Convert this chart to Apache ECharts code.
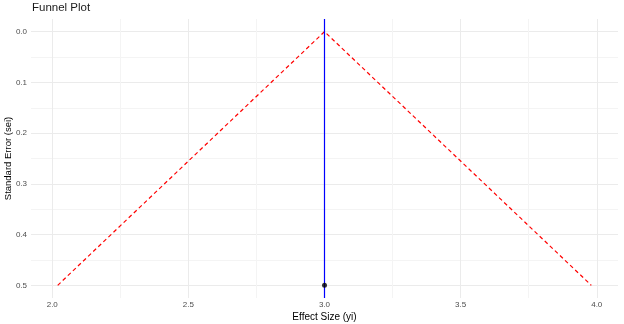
<!DOCTYPE html>
<html><head><meta charset="utf-8">
<script src="https://cdn.jsdelivr.net/npm/echarts@6/dist/echarts.min.js"></script>
<style>html,body{margin:0;padding:0;background:#fff}#c{width:624px;height:324px}</style>
</head><body><div id="c"></div>
<script>
const studyYi = [3.0];
const studySei = [0.5];
const pooledEstimate = 3.0;
const funnelX = [2.02, 3.0, 3.98];
const funnelY = [0.5, 0.0, 0.5];
const xTicks = [2.0, 2.5, 3.0, 3.5, 4.0];
const xMinor = [2.25, 2.75, 3.25, 3.75];
const yTicks = [0.0, 0.1, 0.2, 0.3, 0.4, 0.5];
const yMinor = [0.05, 0.15, 0.25, 0.35, 0.45];

const X_MIN = 1.922, X_MAX = 4.078, Y_MIN = -0.025, Y_MAX = 0.525;
const font = '"Liberation Sans", Arial, sans-serif';
const chart = echarts.init(document.getElementById('c'), null, {renderer: 'canvas'});
const baseX = {type: 'value', min: X_MIN, max: X_MAX, axisLine: {show: false}};
const baseY = {type: 'value', min: Y_MIN, max: Y_MAX, inverse: true, axisLine: {show: false}};
chart.setOption({
  animation: false,
  title: {text: 'Funnel Plot', left: 32, top: 2, padding: 0, textStyle: {fontFamily: font, fontSize: 11.5, fontWeight: 'normal', color: '#1a1a1a'}},
  grid: {left: 31, right: 6, top: 19, bottom: 26, containLabel: false, outerBoundsMode: 'none'},
  xAxis: [
    Object.assign({}, baseX, {
      name: 'Effect Size (yi)', nameLocation: 'middle', nameGap: 14, nameMoveOverlap: false,
      nameTextStyle: {fontFamily: font, fontSize: 10, color: '#000'},
      axisTick: {show: false, customValues: xTicks},
      axisLabel: {customValues: xTicks, formatter: v => v.toFixed(1), fontFamily: font, fontSize: 8, color: '#4d4d4d', margin: 3},
      splitLine: {show: true, lineStyle: {color: '#ebebeb', width: 1}}
    }),
    Object.assign({}, baseX, {
      axisTick: {show: false, customValues: xMinor},
      axisLabel: {show: false, customValues: xMinor},
      splitLine: {show: true, lineStyle: {color: '#f4f4f4', width: 1}}
    })
  ],
  yAxis: [
    Object.assign({}, baseY, {
      name: 'Standard Error (sei)', nameLocation: 'middle', nameGap: 18, nameRotate: 90, nameMoveOverlap: false,
      nameTextStyle: {fontFamily: font, fontSize: 9.5, color: '#000'},
      axisTick: {show: false, customValues: yTicks},
      axisLabel: {customValues: yTicks, formatter: v => v.toFixed(1), fontFamily: font, fontSize: 8, color: '#4d4d4d', margin: 4},
      splitLine: {show: true, lineStyle: {color: '#ebebeb', width: 1}}
    }),
    Object.assign({}, baseY, {
      axisTick: {show: false, customValues: yMinor},
      axisLabel: {show: false, customValues: yMinor},
      splitLine: {show: true, lineStyle: {color: '#f4f4f4', width: 1}}
    })
  ],
  series: [
    {
      type: 'line', xAxisIndex: 0, yAxisIndex: 0,
      data: funnelX.map((x, i) => [x, funnelY[i]]),
      symbol: 'none', lineStyle: {color: '#ff0000', type: [4, 3], width: 1.2}, z: 3,
      markLine: {
        silent: true, symbol: 'none', label: {show: false},
        lineStyle: {color: '#0000ff', type: 'solid', width: 1.2},
        data: [{xAxis: pooledEstimate}]
      }
    },
    {
      type: 'scatter', xAxisIndex: 0, yAxisIndex: 0,
      data: studyYi.map((x, i) => [x, studySei[i]]),
      symbolSize: 5, itemStyle: {color: '#000'}, z: 5
    }
  ]
});
</script></body></html>
